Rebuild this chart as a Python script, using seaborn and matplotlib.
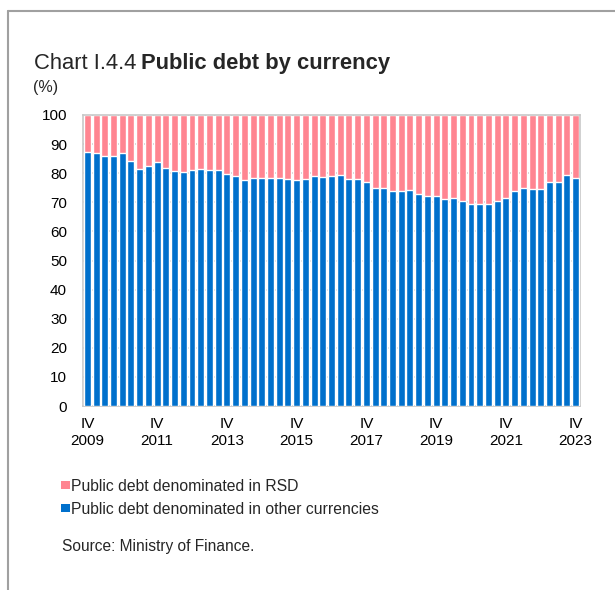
import matplotlib
matplotlib.use("Agg")
import matplotlib.pyplot as plt
from matplotlib.lines import Line2D
from matplotlib.patches import Rectangle
import numpy as np
import pandas as pd
import seaborn as sns

# Quarterly observations, Q4 2009 - Q4 2023
quarters = [f"{q} {y}" for y in range(2009, 2024) for q in ("I", "II", "III", "IV")][3:]

# Share of public debt denominated in other currencies (%)
other_currencies = [
    87.3, 87.1, 86.0, 86.0, 87.1, 84.2, 81.4, 82.6, 83.8, 81.9,
    80.9, 80.5, 81.1, 81.4, 81.1, 81.1, 79.6, 79.2, 77.8, 78.2,
    78.5, 78.5, 78.5, 78.0, 77.8, 78.0, 79.2, 78.7, 79.2, 79.4,
    78.0, 78.0, 77.0, 74.9, 74.9, 74.0, 74.0, 74.2, 73.0, 72.3,
    72.3, 71.0, 71.6, 70.6, 69.5, 69.5, 69.3, 70.6, 71.4, 73.9,
    75.0, 74.5, 74.7, 77.1, 77.1, 79.3, 78.4,
]
# Share denominated in dinars is the remainder to 100%
rsd = [round(100 - v, 1) for v in other_currencies]

tick_labels = ["IV\n2009", "IV\n2011", "IV\n2013", "IV\n2015",
               "IV\n2017", "IV\n2019", "IV\n2021", "IV\n2023"]
legend_labels = ["Public debt denominated in RSD",
                 "Public debt denominated in other currencies"]

BLUE = "#0070CC"
PINK = "#FF8591"

df = pd.DataFrame({
    "quarter": quarters,
    "other": other_currencies,
    "rsd": rsd,
})
df["total"] = df["other"] + df["rsd"]

sns.set_theme(style="white")
plt.rcParams["font.family"] = ["Liberation Sans", "DejaVu Sans"]

W, H = 615, 590
fig = plt.figure(figsize=(W / 100, H / 100), dpi=100)
ax = fig.add_axes([83 / W, 1 - 406 / H, 497 / W, 291 / H])

sns.barplot(data=df, x="quarter", y="total", color=PINK, saturation=1,
            width=0.8, ax=ax, zorder=2)
sns.barplot(data=df, x="quarter", y="other", color=BLUE, saturation=1,
            width=0.8, ax=ax, zorder=3)

ax.set_xlim(-0.5, len(quarters) - 0.5)
ax.set_ylim(0, 100)
ax.set_yticks(np.arange(0, 101, 10))
ax.yaxis.grid(True, color="#BDBDBD", linewidth=1.2, zorder=0)
ax.set_axisbelow(True)
ax.tick_params(axis="y", labelsize=11, length=0, pad=11.5, colors="black")
ax.tick_params(axis="x", labelsize=11, length=0, pad=8, colors="black")
ax.set_xticks(np.arange(0, len(quarters), 8))
ax.set_xticklabels(tick_labels, linespacing=1.3)
ax.set_xlabel("")
ax.set_ylabel("")
for side in ("top", "right", "bottom", "left"):
    ax.spines[side].set_color("#C8C8C8")
    ax.spines[side].set_linewidth(1.2)

# Title: regular prefix followed by the bold name
renderer = fig.canvas.get_renderer()
t1 = fig.text(34 / W, 1 - 69 / H, "Chart I.4.4", fontsize=15.8, ha="left",
              va="baseline")
bb = t1.get_window_extent(renderer=renderer)
fig.text((bb.x1 + 4.5) / W, 1 - 69 / H, "Public debt by currency",
         fontsize=15.8, fontweight="bold", ha="left", va="baseline")
fig.text(33 / W, 1 - 92 / H, "(%)", fontsize=11.5, ha="left",
         va="baseline")

# Legend rows
for i, (lab, col) in enumerate(zip(legend_labels, [PINK, BLUE])):
    yc = 485 + i * 23
    fig.add_artist(Rectangle((61 / W, 1 - (yc + 4.3) / H), 8.6 / W, 8.6 / H,
                             transform=fig.transFigure, facecolor=col,
                             edgecolor="none"))
    fig.text(71 / W, 1 - yc / H, lab, fontsize=11.3, ha="left",
             va="center_baseline")

fig.text(62 / W, 1 - 551 / H, "Source: Ministry of Finance.",
         fontsize=11.2, ha="left", va="baseline")

# Panel frame along the top and left edges
fig.add_artist(Line2D([8 / W, 1.0], [1 - 10.5 / H, 1 - 10.5 / H],
                      color="#A0A0A0", linewidth=1.5))
fig.add_artist(Line2D([8 / W, 8 / W], [1 - 10.5 / H, 0.0],
                      color="#A0A0A0", linewidth=1.5))

fig.savefig("out.png", dpi=100)
